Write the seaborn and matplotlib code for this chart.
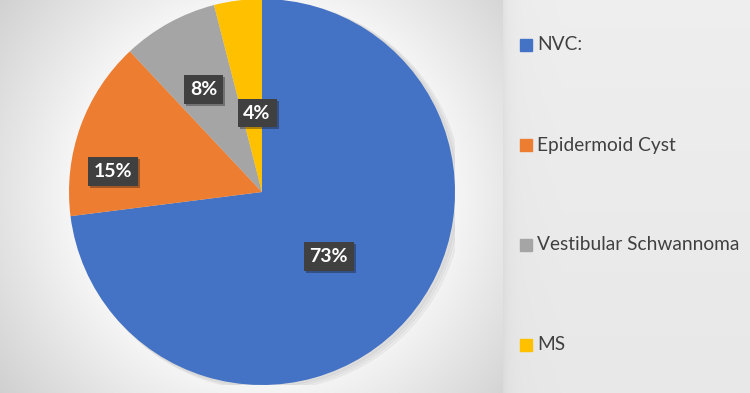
import numpy as np
import matplotlib
matplotlib.use("Agg")
import matplotlib.pyplot as plt
import matplotlib.patheffects as pe
import seaborn as sns

categories = ["NVC:", "Epidermoid Cyst", "Vestibular Schwannoma", "MS"]
values = [73, 15, 8, 4]
pct_labels = ["73%", "15%", "8%", "4%"]
colors = ["#4472C4", "#ED7D31", "#A5A5A5", "#FFC000"]

sns.set_theme(style="white")
plt.rcParams['font.family'] = ['Lato', 'DejaVu Sans']

W, H = 750, 393
fig = plt.figure(figsize=(W / 100, H / 100), dpi=100)

# background gradient
bg = fig.add_axes([0, 0, 1, 1])
yy, xx = np.mgrid[0:H, 0:W]
cx, cy = 262, 192
d = np.hypot(xx - cx, yy - cy)
left = np.clip(0.965 - 0.15 * (d - 190) / 140, 0.80, 0.965)
panel_x = 503
right = 0.925 - 0.025 * yy / H + 0.01 * np.clip((xx - panel_x) / 60, 0, 1)
shade = np.exp(-(xx - panel_x) / 6.0) * 0.04
right = right - np.where(xx >= panel_x, shade, 0)
img = np.where(xx < panel_x, left, right)
bg.imshow(np.dstack([img] * 3), extent=[0, W, H, 0], aspect='auto', interpolation='bilinear')
bg.set_xlim(0, W)
bg.set_ylim(H, 0)
bg.axis('off')

# pie
R = 193
ax = fig.add_axes([(cx - R) / W, (H - cy - R) / H, 2 * R / W, 2 * R / H])
ax.set_facecolor('none')
# soft shadow behind pie
for k, a in enumerate([0.03, 0.03, 0.03]):
    sh = plt.Circle((0.015 + 0.008 * k, -0.01 - 0.005 * k), 1.0 + 0.004 * k, color='black', alpha=a, zorder=0)
    ax.add_patch(sh)
wedges, _ = ax.pie(values, colors=colors, startangle=90, counterclock=False,
                   radius=1.0, wedgeprops=dict(linewidth=0))
ax.set_xlim(-1, 1)
ax.set_ylim(-1, 1)
ax.set_aspect('equal')
ax.axis('off')

# data label placement (Excel best fit style)
label_dist = [0.48, 0.78, 0.61, 0.41]
angle_shift = [-2.5, 12.0, 0.8, -3.6]
for w, lab, dist, sh in zip(wedges, pct_labels, label_dist, angle_shift):
    ang = np.deg2rad((w.theta1 + w.theta2) / 2 + sh)
    t = ax.text(dist * np.cos(ang), dist * np.sin(ang), lab, ha='center', va='center',
                color='white', fontsize=14, fontweight='bold', zorder=5,
                bbox=dict(boxstyle='square,pad=0.3', fc='#404040', ec='none'))
    t.get_bbox_patch().set_path_effects([pe.SimplePatchShadow(offset=(1.5, -1.5), alpha=0.35), pe.Normal()])

# legend
leg_y = [45, 145, 245, 345]
for c, name, y in zip(colors, categories, leg_y):
    fig.patches.append(plt.Rectangle(((520) / W, (H - y - 6) / H), 12 / W, 12 / H,
                                     transform=fig.transFigure, color=c, zorder=3))
    fig.text(537 / W, (H - y) / H, name, ha='left', va='center', fontsize=13.8, color='#404040')

fig.savefig("out.png", dpi=100)
